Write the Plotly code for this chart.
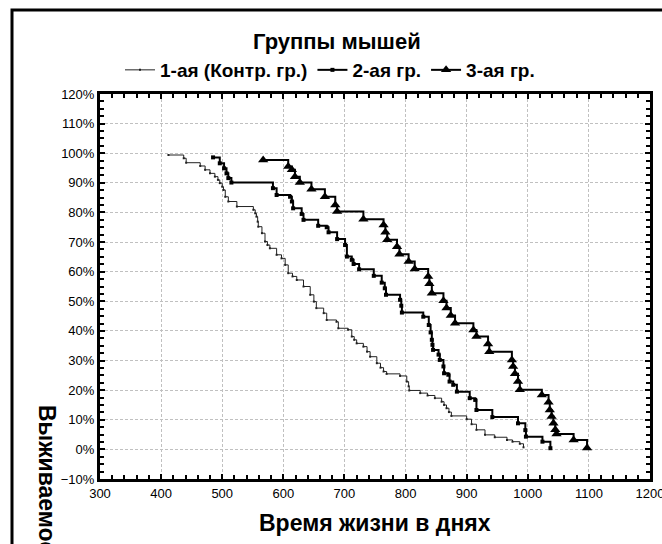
import plotly.graph_objects as go

# ---- data ----
days1 = [412, 437, 441, 464, 472, 480, 488, 493, 496, 500, 502, 505, 510, 524, 551,
         554, 556, 558, 559, 565, 570, 574, 578, 589, 597, 603, 608, 615, 622, 633,
         644, 650, 654, 666, 671, 687, 690, 706, 712, 716, 720, 731, 737, 742, 753,
         759, 764, 769, 791, 802, 805, 806, 824, 836, 848, 859, 863, 867, 871, 875,
         900, 908, 916, 930, 946, 966, 975, 987, 993]
surv1 = [99.4, 98.3, 96.8, 95.7, 94.4, 93.2, 92.1, 91.0, 89.9, 88.7, 87.6, 85.3, 83.7, 82.0, 80.9,
         79.7, 78.6, 76.9, 75.2, 73.0, 70.2, 69.0, 67.9, 65.7, 64.5, 62.3, 59.5, 58.4, 57.2, 55.0,
         52.2, 49.9, 47.7, 46.0, 43.7, 43.1, 40.9, 40.4, 38.1, 37.0, 35.8, 34.7, 33.0, 31.3, 29.1,
         27.6, 26.3, 25.5, 24.8, 22.9, 21.3, 19.9, 19.0, 18.2, 17.3, 16.1, 15.0, 13.9, 12.6, 11.3,
         10.2, 8.5, 6.6, 4.9, 4.1, 3.2, 2.6, 1.9, 0.7]

days2 = [485, 496, 503, 507, 510, 515, 583, 589, 611, 614, 616, 630, 633, 657, 671,
         674, 688, 701, 704, 712, 715, 724, 748, 761, 766, 768, 791, 793, 794, 829,
         838, 841, 843, 844, 845, 854, 856, 862, 863, 870, 872, 878, 884, 905, 914,
         916, 942, 984, 996, 997, 1024, 1037]
surv2 = [98.6, 96.6, 94.9, 93.2, 91.6, 90.1, 88.2, 85.9, 85.3, 83.7, 81.4, 79.5, 77.5, 75.5, 75.0,
         73.3, 71.0, 69.0, 65.1, 64.0, 62.6, 60.8, 58.6, 56.3, 54.4, 52.2, 50.5, 48.5, 46.2, 44.8,
         42.0, 39.5, 37.0, 35.3, 33.6, 32.0, 30.2, 28.0, 25.7, 25.2, 22.9, 21.8, 19.5, 17.3, 16.7,
         13.3, 10.9, 8.8, 6.5, 4.3, 2.6, 0.4]

days3 = [567, 608, 614, 619, 627, 646, 668, 685, 688, 731, 764, 767, 770, 786, 790,
         805, 815, 837, 839, 843, 862, 867, 874, 881, 911, 916, 935, 937, 974, 976,
         979, 984, 987, 1023, 1034, 1036, 1039, 1042, 1045, 1047, 1075, 1097]
surv3 = [97.7, 95.5, 94.4, 92.1, 90.1, 87.8, 85.3, 82.5, 80.3, 77.7, 75.8, 73.3, 70.8, 68.4, 65.9,
         63.4, 60.9, 58.4, 55.9, 52.7, 50.2, 47.7, 45.2, 42.6, 40.3, 38.1, 35.6, 33.0, 30.2, 28.0,
         25.5, 22.9, 20.1, 18.4, 15.9, 13.3, 11.1, 8.8, 6.6, 5.2, 3.2, 0.5]

names = ["1-ая (Контр. гр.)", "2-ая гр.", "3-ая гр."]
legend_title = "Группы мышей"
x_title = "Время жизни в днях"
y_title = "Выживаемость"

FONT = "Liberation Sans, Arial, sans-serif"

fig = go.Figure()
fig.add_trace(go.Scatter(x=days1, y=surv1, name=names[0], mode="lines+markers",
                         line=dict(color="#222222", width=1, shape="hv"),
                         marker=dict(symbol="square", size=2, color="#222222")))
fig.add_trace(go.Scatter(x=days2, y=surv2, name=names[1], mode="lines+markers",
                         line=dict(color="black", width=2, shape="hv"),
                         marker=dict(symbol="square", size=4, color="black")))
fig.add_trace(go.Scatter(x=days3, y=surv3, name=names[2], mode="lines+markers",
                         line=dict(color="black", width=2, shape="hv"),
                         marker=dict(symbol="triangle-up", size=9, color="black")))

axis_common = dict(
    showline=True, linecolor="black", linewidth=3, mirror="allticks",
    ticks="inside", ticklen=5, tickwidth=2, tickcolor="black",
    showgrid=True, gridcolor="#c0c0c0", griddash="3px,2px", gridwidth=1,
    zeroline=False, automargin=False, ticklabeloverflow="allow",
    tickfont=dict(family=FONT, size=13, color="black"),
)

fig.update_xaxes(range=[300, 1200], dtick=100, tick0=300,
                 minor=dict(dtick=20, ticks="inside", ticklen=4, tickwidth=2, tickcolor="black", showgrid=False),
                 **axis_common)
fig.update_yaxes(range=[-10, 120], dtick=10, tick0=0, ticksuffix="%",
                 minor=dict(dtick=2.5, ticks="inside", ticklen=4, tickwidth=2, tickcolor="black", showgrid=False),
                 **axis_common)

W, H = 662, 544
L, R, T, B = 100, 12, 94, 65
pw, ph = W - L - R, H - T - B

def px2paper_x(px):
    return (px - L) / pw

def px2paper_y(py):
    return (H - B - py) / ph

fig.update_layout(
    width=W, height=H,
    margin=dict(l=L, r=R, t=T, b=B, pad=0, autoexpand=False),
    paper_bgcolor="white", plot_bgcolor="white",
    font=dict(family=FONT, color="black"),
    showlegend=True,
    legend=dict(orientation="h", xref="paper", yref="paper",
                x=px2paper_x(330), xanchor="center", y=px2paper_y(70), yanchor="middle",
                font=dict(family=FONT, size=19, weight="bold", color="black"),
                bgcolor="rgba(0,0,0,0)", itemwidth=30, tracegroupgap=0),
    annotations=[
        dict(text=legend_title, xref="paper", yref="paper",
             x=px2paper_x(337), y=px2paper_y(41), xanchor="center", yanchor="middle",
             showarrow=False, font=dict(family=FONT, size=22, weight="bold", color="black")),
        dict(text=x_title, xref="paper", yref="paper",
             x=0.5, y=px2paper_y(523), xanchor="center", yanchor="middle",
             showarrow=False, font=dict(family=FONT, size=23, weight="bold", color="black")),
        dict(text=y_title, xref="paper", yref="paper", textangle=90,
             x=px2paper_x(47), y=px2paper_y(403), xanchor="center", yanchor="top",
             showarrow=False, font=dict(family=FONT, size=23, weight="bold", color="black")),
    ],
    shapes=[
        dict(type="rect", xref="paper", yref="paper",
             x0=px2paper_x(12), x1=px2paper_x(W + 40),
             y0=px2paper_y(H + 40), y1=px2paper_y(10),
             line=dict(color="black", width=3), fillcolor="rgba(0,0,0,0)", layer="above"),
    ],
)

fig.write_html("out.html")
